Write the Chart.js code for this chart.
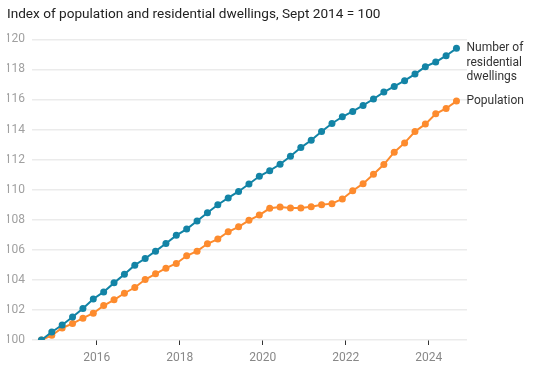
<!DOCTYPE html>
<html lang="en">
<head>
    <meta charset="UTF-8">
    <title>Population and dwellings index</title>
    <script src="https://cdn.jsdelivr.net/npm/chart.js"></script>
    <style>
        body { margin: 0; background: #fff; }
    </style>
</head>
<body>
    <canvas id="indexChart" width="533" height="376"></canvas>

    <script>
        // quarters, Sept 2014 to Sept 2024
        const quarters = [
            '2014-09', '2014-12', '2015-03', '2015-06', '2015-09', '2015-12',
            '2016-03', '2016-06', '2016-09', '2016-12', '2017-03', '2017-06',
            '2017-09', '2017-12', '2018-03', '2018-06', '2018-09', '2018-12',
            '2019-03', '2019-06', '2019-09', '2019-12', '2020-03', '2020-06',
            '2020-09', '2020-12', '2021-03', '2021-06', '2021-09', '2021-12',
            '2022-03', '2022-06', '2022-09', '2022-12', '2023-03', '2023-06',
            '2023-09', '2023-12', '2024-03', '2024-06', '2024-09'
        ];

        const dwellings = [
            100, 100.53, 101.0, 101.53, 102.09, 102.73, 103.2, 103.8, 104.38, 104.98,
            105.42, 105.91, 106.42, 106.96, 107.38, 107.91, 108.47, 109.0, 109.45, 109.88,
            110.38, 110.89, 111.26, 111.69, 112.22, 112.8, 113.29, 113.87, 114.4, 114.85,
            115.2, 115.6, 116.03, 116.49, 116.87, 117.25, 117.69, 118.18, 118.49, 118.91,
            119.4
        ];

        const population = [
            100, 100.31, 100.8, 101.09, 101.45, 101.78, 102.29, 102.67, 103.11, 103.49,
            104.02, 104.4, 104.78, 105.09, 105.6, 105.91, 106.4, 106.71, 107.2, 107.53,
            107.96, 108.31, 108.76, 108.85, 108.78, 108.78, 108.87, 109.0, 109.07, 109.38,
            109.93, 110.4, 111.02, 111.67, 112.49, 113.11, 113.87, 114.36, 115.05, 115.4,
            115.89
        ];

        const seriesLabels = [
            ['Number of', 'residential', 'dwellings'],
            ['Population']
        ];
        const yearTicks = [2016, 2018, 2020, 2022, 2024];
        const titleText = 'Index of population and residential dwellings, Sept 2014 = 100';

        // '2014-09' -> decimal year
        function toYear(q) {
            const [y, m] = q.split('-').map(Number);
            return y + (m - 1) / 12;
        }

        const toPoints = vals => vals.map((v, i) => ({ x: toYear(quarters[i]), y: v }));

        // labels at the end of each line
        const endLabels = {
            id: 'endLabels',
            afterDatasetsDraw(chart) {
                const ctx = chart.ctx;
                ctx.save();
                ctx.font = '12px Roboto';
                ctx.fillStyle = '#333';
                ctx.textBaseline = 'middle';
                chart.data.datasets.forEach((ds, i) => {
                    const meta = chart.getDatasetMeta(i);
                    const last = meta.data[meta.data.length - 1];
                    seriesLabels[i].forEach((line, j) => {
                        ctx.fillText(line, last.x + 10, last.y + j * 14.5);
                    });
                });
                ctx.restore();
            }
        };

        const ctx = document.getElementById('indexChart').getContext('2d');
        new Chart(ctx, {
            type: 'line',
            data: {
                datasets: [{
                    label: 'Number of residential dwellings',
                    data: toPoints(dwellings),
                    borderColor: '#1384a6',
                    backgroundColor: '#1384a6',
                    borderWidth: 2,
                    pointRadius: 3.5,
                    pointBorderWidth: 0
                }, {
                    label: 'Population',
                    data: toPoints(population),
                    borderColor: '#fd8b2e',
                    backgroundColor: '#fd8b2e',
                    borderWidth: 2,
                    pointRadius: 3.5,
                    pointBorderWidth: 0
                }]
            },
            options: {
                responsive: false,
                animation: false,
                layout: { padding: { left: 7, right: 66, top: 0, bottom: 0 } },
                plugins: {
                    legend: { display: false },
                    tooltip: { enabled: false },
                    title: {
                        display: true,
                        text: titleText,
                        align: 'start',
                        color: '#222',
                        font: { family: 'Roboto', size: 13.6, weight: 'normal' },
                        padding: { top: 6, bottom: 17 }
                    }
                },
                scales: {
                    x: {
                        type: 'linear',
                        min: 2014.44,
                        max: 2024.92,
                        afterBuildTicks: scale => {
                            scale.ticks = yearTicks.map(v => ({ value: v }));
                        },
                        afterFit: scale => { scale.height = 36; },
                        grid: {
                            drawOnChartArea: false,
                            drawTicks: true,
                            tickLength: 5,
                            color: '#333'
                        },
                        border: { display: false },
                        ticks: {
                            padding: 6,
                            color: '#888',
                            font: { family: 'Roboto', size: 12 },
                            callback: v => String(v),
                            maxRotation: 0
                        }
                    },
                    y: {
                        min: 100,
                        max: 120,
                        afterFit: scale => { scale.width = 25; },
                        grid: { color: '#ebebeb', lineWidth: 1.5, drawTicks: false },
                        border: { display: false },
                        ticks: {
                            stepSize: 2,
                            padding: 7,
                            color: '#a0a0a0',
                            font: { family: 'Roboto', size: 12 }
                        }
                    }
                }
            },
            plugins: [endLabels]
        });
    </script>
</body>
</html>
